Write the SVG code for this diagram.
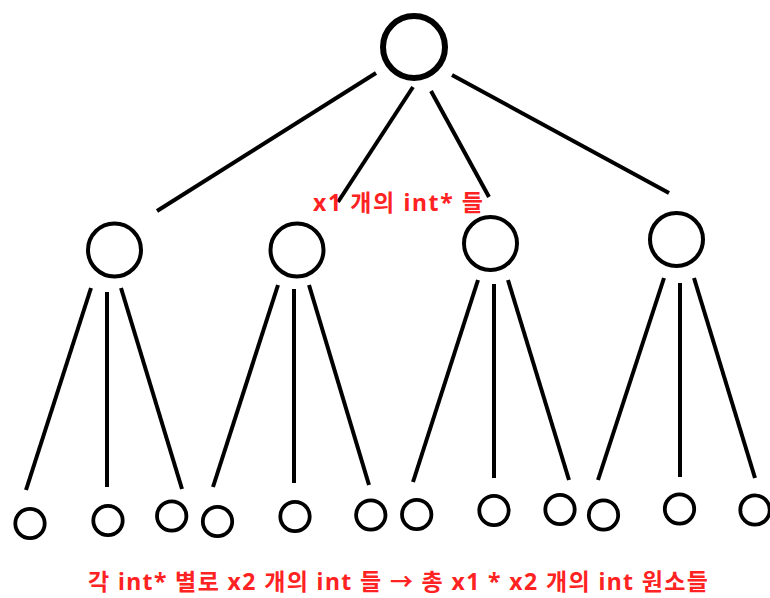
<svg xmlns="http://www.w3.org/2000/svg" width="770" height="598" viewBox="0 0 770 598">
<style>
.n{fill:none;stroke:#000}
.root{stroke-width:6}
.mid{stroke-width:4}
.leaf{stroke-width:3.8}
.e line{stroke:#000;stroke-width:4}
.lbl{font-family:"Noto Sans","Noto Sans CJK KR",sans-serif;font-weight:700;fill:#ff2222}
</style>
<rect width="770" height="598" fill="#fff"/>
<g id="connectors" class="e">
<line x1="376" y1="73" x2="157" y2="211"/>
<line x1="413" y1="87" x2="338" y2="202"/>
<line x1="431" y1="91" x2="489" y2="197"/>
<line x1="452" y1="75" x2="669" y2="193"/>
<line x1="91" y1="288" x2="26" y2="490"/>
<line x1="107" y1="292" x2="107" y2="487"/>
<line x1="121" y1="288" x2="182" y2="489"/>
<line x1="278" y1="285" x2="213" y2="487"/>
<line x1="294" y1="289" x2="294" y2="483"/>
<line x1="309" y1="285" x2="369" y2="485"/>
<line x1="478" y1="280" x2="413" y2="482"/>
<line x1="494" y1="284" x2="494" y2="478"/>
<line x1="508" y1="280" x2="569" y2="480"/>
<line x1="664" y1="278" x2="598" y2="480"/>
<line x1="680" y1="283" x2="680" y2="477"/>
<line x1="694" y1="278" x2="755" y2="478"/>
</g>
<g id="root"><circle class="n root" cx="414" cy="47" r="31"/></g>
<g id="m1"><circle class="n mid" cx="114.5" cy="250" r="26.5"/></g>
<g id="m2"><circle class="n mid" cx="297" cy="250" r="26.5"/></g>
<g id="m3"><circle class="n mid" cx="490.5" cy="243.5" r="26.5"/></g>
<g id="m4"><circle class="n mid" cx="676.5" cy="239.5" r="26.5"/></g>
<g id="l1"><circle class="n leaf" cx="30" cy="523.5" r="14.7"/></g>
<g id="l2"><circle class="n leaf" cx="108" cy="520.5" r="14.7"/></g>
<g id="l3"><circle class="n leaf" cx="171.7" cy="516" r="14.7"/></g>
<g id="l4"><circle class="n leaf" cx="217.5" cy="521.5" r="14.7"/></g>
<g id="l5"><circle class="n leaf" cx="295" cy="516.5" r="14.7"/></g>
<g id="l6"><circle class="n leaf" cx="370.8" cy="515" r="14.7"/></g>
<g id="l7"><circle class="n leaf" cx="416.7" cy="514.5" r="14.7"/></g>
<g id="l8"><circle class="n leaf" cx="494" cy="510.5" r="14.7"/></g>
<g id="l9"><circle class="n leaf" cx="560" cy="509.5" r="14.7"/></g>
<g id="l10"><circle class="n leaf" cx="603.5" cy="515" r="14.7"/></g>
<g id="l11"><circle class="n leaf" cx="679.5" cy="509" r="14.7"/></g>
<g id="l12"><circle class="n leaf" cx="755" cy="510" r="14.7"/></g>
<g id="labels">
<text class="lbl" x="313" y="211" font-size="23" textLength="170" lengthAdjust="spacing">x1 개의 int* 들</text>
<text class="lbl" x="88" y="590" font-size="23" textLength="620" lengthAdjust="spacing">각 int* 별로 x2 개의 int 들 → 총 x1 * x2 개의 int 원소들</text>
</g>
</svg>
